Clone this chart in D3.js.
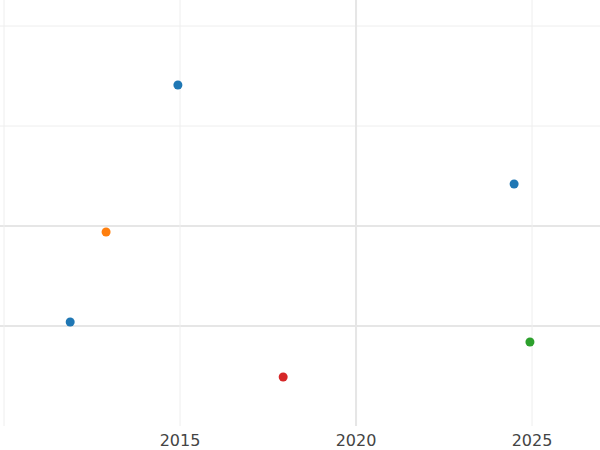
<!DOCTYPE html>
<html><head><meta charset="utf-8">
<script src="https://cdn.jsdelivr.net/npm/d3@7"></script>
<style>body{margin:0;background:#fff}</style>
</head><body>
<svg id="chart" width="600" height="450"></svg>
<script>
const years = [2014.94, 2011.88, 2012.9, 2017.93, 2024.49, 2024.94];
const values = [3.41, 1.04, 1.94, 0.49, 2.42, 0.84];
const colors = ['#1f77b4', '#1f77b4', '#ff7f0e', '#d62728', '#1f77b4', '#2ca02c'];
const xTicks = [2010, 2015, 2020, 2025];
const yTicks = [1, 2, 3, 4];

const svg = d3.select('#chart');
const x = d3.scaleLinear().domain([2010, 2026.93]).range([4, 600]);
const y = d3.scaleLinear().domain([0, 4]).range([426, 26]);

// grid
svg.append('g').selectAll('line').data(yTicks).enter().append('line')
  .attr('x1', 0).attr('x2', 600)
  .attr('y1', d => y(d)).attr('y2', d => y(d))
  .attr('stroke', d => d <= 2 ? '#e6e6e6' : '#eeeeee').attr('stroke-width', d => d <= 2 ? 2 : 1);
svg.append('g').selectAll('line').data(xTicks).enter().append('line')
  .attr('x1', d => x(d)).attr('x2', d => x(d))
  .attr('y1', 0).attr('y2', 426)
  .attr('stroke', d => d === 2020 ? '#e6e6e6' : '#eeeeee').attr('stroke-width', d => d === 2020 ? 2 : 1);

// x labels
svg.append('g').selectAll('text').data(xTicks.filter(d => d > 2010)).enter().append('text')
  .attr('x', d => x(d)).attr('y', 446).attr('text-anchor', 'middle')
  .attr('font-family', 'DejaVu Sans').attr('font-size', 16).attr('fill', '#444')
  .text(d => d);

svg.append('g').selectAll('circle').data(years).enter().append('circle')
  .attr('cx', d => x(d)).attr('cy', (d, i) => y(values[i]))
  .attr('r', 4.5).attr('fill', (d, i) => colors[i]);
</script>
</body></html>
